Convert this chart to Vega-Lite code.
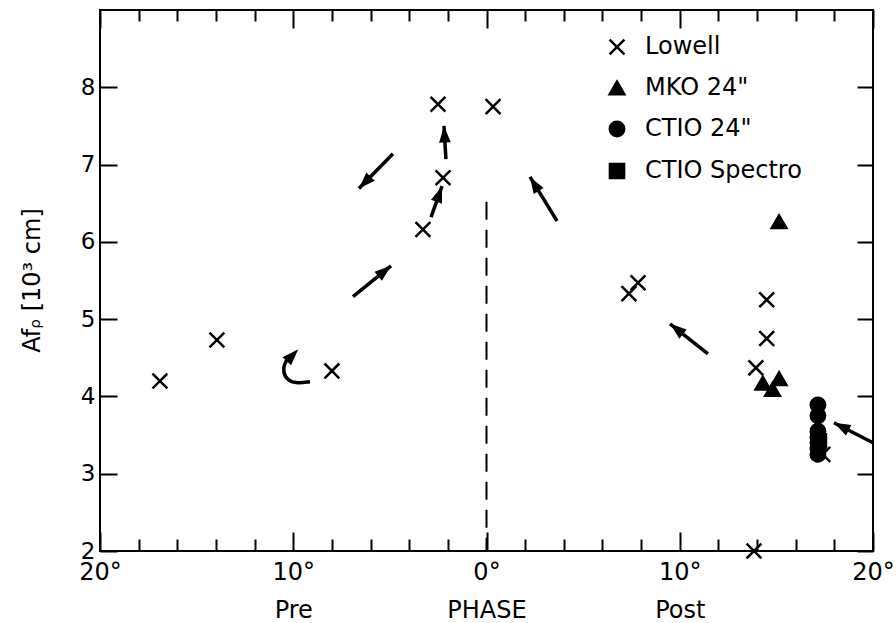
{
  "$schema": "https://vega.github.io/schema/vega-lite/v6.json",
  "width": 773,
  "height": 541,
  "autosize": "none",
  "padding": {"left": 100, "top": 10, "right": 23, "bottom": 72},
  "background": "white",
  "config": {
    "view": {"stroke": "black", "strokeWidth": 2},
    "font": "DejaVu Sans",
    "axis": {"domain": false, "grid": false, "tickColor": "black", "tickWidth": 2, "labelColor": "black", "titleColor": "black", "labelFont": "DejaVu Sans", "titleFont": "DejaVu Sans", "labelFontSize": 23, "titleFontSize": 24, "titleFontWeight": "normal", "labelFlush": false, "labelOverlap": false}
  },
  "datasets": {
    "pts": [
      {"phase": -16.9, "afrho": 4.20, "series": "Lowell"},
      {"phase": -13.95, "afrho": 4.73, "series": "Lowell"},
      {"phase": -8.0, "afrho": 4.33, "series": "Lowell"},
      {"phase": -3.29, "afrho": 6.16, "series": "Lowell"},
      {"phase": -2.25, "afrho": 6.83, "series": "Lowell"},
      {"phase": -2.51, "afrho": 7.78, "series": "Lowell"},
      {"phase": 0.34, "afrho": 7.75, "series": "Lowell"},
      {"phase": 7.37, "afrho": 5.33, "series": "Lowell"},
      {"phase": 7.84, "afrho": 5.47, "series": "Lowell"},
      {"phase": 14.5, "afrho": 5.25, "series": "Lowell"},
      {"phase": 14.5, "afrho": 4.75, "series": "Lowell"},
      {"phase": 13.94, "afrho": 4.37, "series": "Lowell"},
      {"phase": 13.84, "afrho": 2.0, "series": "Lowell"},
      {"phase": 17.4, "afrho": 3.25, "series": "Lowell"},
      {"phase": 15.14, "afrho": 6.26, "series": "MKO 24\""},
      {"phase": 14.3, "afrho": 4.17, "series": "MKO 24\""},
      {"phase": 14.8, "afrho": 4.09, "series": "MKO 24\""},
      {"phase": 15.14, "afrho": 4.23, "series": "MKO 24\""},
      {"phase": 17.15, "afrho": 3.89, "series": "CTIO 24\""},
      {"phase": 17.15, "afrho": 3.75, "series": "CTIO 24\""},
      {"phase": 17.15, "afrho": 3.55, "series": "CTIO 24\""},
      {"phase": 17.15, "afrho": 3.47, "series": "CTIO 24\""},
      {"phase": 17.15, "afrho": 3.40, "series": "CTIO 24\""},
      {"phase": 17.15, "afrho": 3.33, "series": "CTIO 24\""},
      {"phase": 17.15, "afrho": 3.25, "series": "CTIO 24\""},
      {"phase": 17.2, "afrho": 3.42, "series": "CTIO Spectro"}
    ],
    "arrows": [
      {"x": -4.84, "y": 7.14, "x2": -6.60, "y2": 6.69, "kind": "straight"},
      {"x": -6.91, "y": 5.29, "x2": -4.94, "y2": 5.69, "kind": "straight"},
      {"x": -2.87, "y": 6.32, "x2": -2.30, "y2": 6.72, "kind": "straight"},
      {"x": -2.10, "y": 7.07, "x2": -2.20, "y2": 7.50, "kind": "straight"},
      {"x": 3.65, "y": 6.27, "x2": 2.25, "y2": 6.84, "kind": "straight"},
      {"x": 11.46, "y": 4.55, "x2": 9.50, "y2": 4.94, "kind": "straight"},
      {"x": 20.0, "y": 3.40, "x2": 17.98, "y2": 3.66, "kind": "straight"},
      {"x": -10.35, "y": 4.45, "x2": -9.74, "y2": 4.61, "kind": "curve"}
    ],
    "curve": [
      {"x": -9.13, "y": 4.19, "o": 1},
      {"x": -9.81, "y": 4.17, "o": 2},
      {"x": -10.27, "y": 4.20, "o": 3},
      {"x": -10.53, "y": 4.31, "o": 4},
      {"x": -10.48, "y": 4.42, "o": 5},
      {"x": -10.2, "y": 4.52, "o": 6}
    ],
    "dash": [
      {"phase": 0, "y1": 6.52, "y2": 2.0}
    ]
  },
  "resolve": {"axis": {"x": "independent", "y": "independent"}},
  "layer": [
    {
      "data": {"name": "dash"},
      "mark": {"type": "rule", "strokeDash": [18, 10], "strokeWidth": 2, "color": "black"},
      "encoding": {
        "x": {"field": "phase", "type": "quantitative", "scale": {"domain": [-20, 20], "nice": false, "zero": false},
          "axis": {"orient": "bottom", "values": [-18, -16, -14, -12, -8, -6, -4, -2, 2, 4, 6, 8, 12, 14, 16, 18], "tickSize": -12, "labels": false, "title": null}},
        "y": {"field": "y1", "type": "quantitative", "scale": {"domain": [2, 9], "nice": false, "zero": false},
          "axis": {"orient": "right", "values": [2, 3, 4, 5, 6, 7, 8], "tickSize": -16, "labels": false, "title": null}},
        "y2": {"field": "y2"}
      }
    },
    {
      "data": {"name": "arrows"},
      "transform": [{"filter": "datum.kind == 'straight'"}],
      "mark": {"type": "rule", "strokeWidth": 3.5, "color": "black"},
      "encoding": {
        "x": {"field": "x", "type": "quantitative", "scale": {"domain": [-20, 20], "nice": false, "zero": false},
          "axis": {"orient": "top", "values": [-20, -10, 0, 10, 20], "tickSize": -18, "labels": false, "title": null}},
        "y": {"field": "y", "type": "quantitative", "scale": {"domain": [2, 9], "nice": false, "zero": false}, "axis": null},
        "x2": {"field": "x2"},
        "y2": {"field": "y2"}
      }
    },
    {
      "data": {"name": "arrows"},
      "transform": [{"calculate": "atan2((datum.x2 - datum.x) * 19.325, (datum.y2 - datum.y) * 77.36) * 180 / PI", "as": "ang"}],
      "mark": {"type": "point", "filled": true, "color": "black", "opacity": 1, "shape": "M0,0L-0.6,1.7L0.6,1.7Z", "size": 380},
      "encoding": {
        "x": {"field": "x2", "type": "quantitative", "scale": {"domain": [-20, 20], "nice": false, "zero": false},
          "axis": {"orient": "top", "values": [-18, -16, -14, -12, -8, -6, -4, -2, 2, 4, 6, 8, 12, 14, 16, 18], "tickSize": -11, "labels": false, "title": null}},
        "y": {"field": "y2", "type": "quantitative", "scale": {"domain": [2, 9], "nice": false, "zero": false}, "axis": null},
        "angle": {"field": "ang", "type": "quantitative", "scale": null}
      }
    },
    {
      "data": {"name": "curve"},
      "mark": {"type": "line", "strokeWidth": 3.5, "color": "black", "interpolate": "basis"},
      "encoding": {
        "x": {"field": "x", "type": "quantitative", "scale": {"domain": [-20, 20], "nice": false, "zero": false}, "axis": null},
        "y": {"field": "y", "type": "quantitative", "scale": {"domain": [2, 9], "nice": false, "zero": false}, "axis": null},
        "order": {"field": "o", "type": "quantitative"}
      }
    },
    {
      "data": {"name": "pts"},
      "mark": {"type": "point", "filled": true, "color": "black", "stroke": "black", "strokeWidth": 2.5, "opacity": 1, "clip": false},
      "encoding": {
        "x": {"field": "phase", "type": "quantitative", "scale": {"domain": [-20, 20], "nice": false, "zero": false},
          "axis": {"orient": "bottom", "values": [-20, -10, 0, 10, 20], "tickSize": -19, "labelPadding": 28, "labelBaseline": "top", "labelLineHeight": 38, "labelFontSize": 24,
            "labelExpr": "datum.value == -10 ? ['10°', 'Pre'] : datum.value == 0 ? ['0°', 'PHASE'] : datum.value == 10 ? ['10°', 'Post'] : abs(datum.value) + '°'", "title": null}},
        "y": {"field": "afrho", "type": "quantitative", "scale": {"domain": [2, 9], "nice": false, "zero": false},
          "axis": {"orient": "left", "values": [2, 3, 4, 5, 6, 7, 8], "tickSize": -17, "labelPadding": 22,
            "title": "Afᵨ   [10³ cm]", "titleX": -68, "titleY": 270, "titleAngle": -90, "titleAlign": "center", "titleBaseline": "middle"}},
        "shape": {"field": "series", "type": "nominal",
          "scale": {"domain": ["Lowell", "MKO 24\"", "CTIO 24\"", "CTIO Spectro"], "range": ["M-1,-1L1,1M-1,1L1,-1", "triangle-up", "circle", "square"]},
          "legend": {"title": null, "orient": "none", "legendX": 505, "legendY": 25, "labelFont": "DejaVu Sans", "labelFontSize": 24, "labelColor": "black", "symbolFillColor": "black", "symbolStrokeColor": "black", "symbolStrokeWidth": 2.5, "symbolOpacity": 1, "rowPadding": 16, "labelOffset": 16, "padding": 0}},
        "size": {"field": "series", "type": "nominal",
          "scale": {"domain": ["Lowell", "MKO 24\"", "CTIO 24\"", "CTIO Spectro"], "range": [220, 200, 55, 150]}}
      }
    }
  ]
}
